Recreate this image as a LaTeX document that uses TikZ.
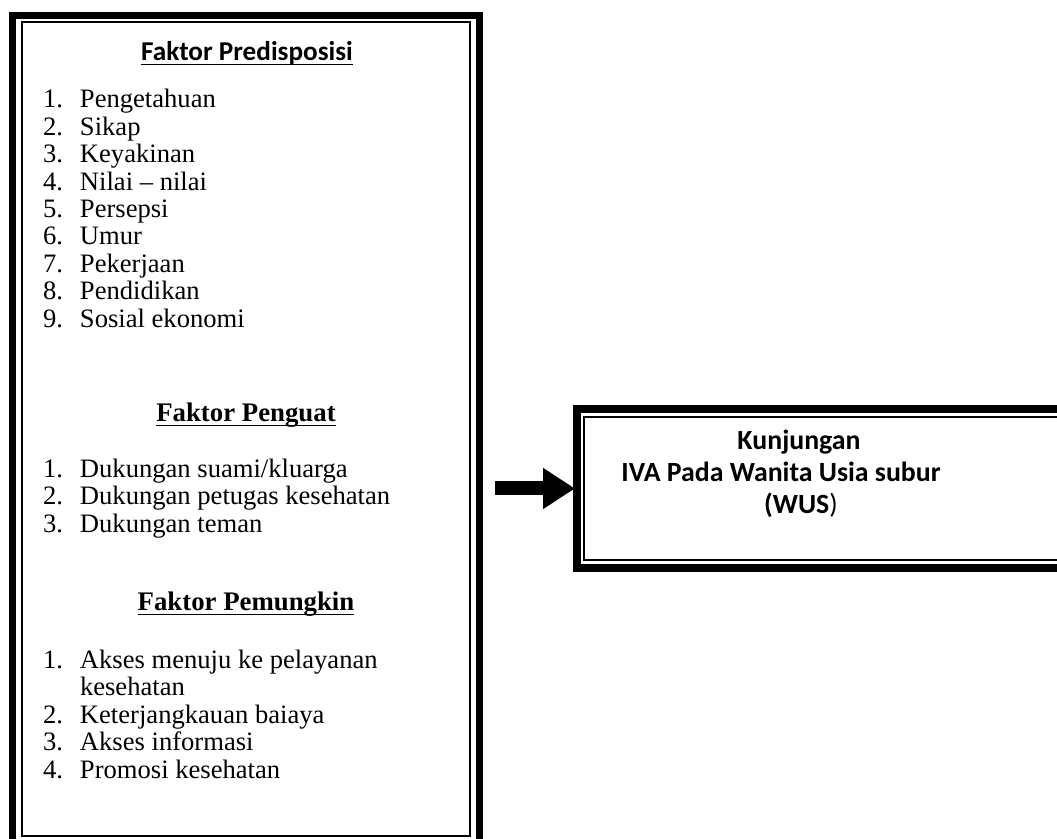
\documentclass[tikz,border=0pt]{standalone}
\usepackage{fontspec}
\setmainfont{Liberation Serif}
\newfontfamily\calib{Carlito}
\usetikzlibrary{arrows.meta}
\newcommand\wul[1]{\setbox0\hbox{#1}\rlap{\rule[-2.2pt]{\wd0}{0.9pt}}\box0}
\newcommand\nb[1]{\makebox[18.5pt][l]{#1}}
\begin{document}
\begin{tikzpicture}[x=0.5pt,y=-0.5pt,
 base/.style={inner sep=0pt, outer sep=0pt},
 item/.style={base, anchor=base west, font=\fontsize{13.3}{15}\selectfont},
 headC/.style={base, anchor=base, font=\calib\bfseries\fontsize{13.6}{15}\selectfont},
 headT/.style={base, anchor=base, font=\bfseries\fontsize{13.4}{15}\selectfont},
 rtext/.style={base, anchor=base, font=\calib\bfseries\fontsize{13.9}{16}\selectfont},
 thinframe/.style={draw, line width=0.75pt, inner sep=0pt, outer sep=0pt},
 thickframe/.style={line width=3.5pt},
 bigarrow/.style={line width=7pt, -{Triangle[length=16pt,width=19.5pt]}},
]
\useasboundingbox (0,0) rectangle (1057,839);
\clip (0,0) rectangle (1057,839);

% left box
\node[thinframe, minimum width=224pt, minimum height=407pt] (lbox) at (246,429) {};
\draw[thickframe] ([shift={(-9.5,-6.5)}]lbox.north west) rectangle ([shift={(9,7)}]lbox.south east);

% right box
\node[thinframe, minimum width=248pt, minimum height=71.5pt] (rbox) at (832,488.5) {};
\draw[line width=4pt] ([shift={(-7,-8)}]rbox.north west) rectangle ([shift={(10,8.5)}]rbox.south east);

% headings
\node[headC] (h1) at (247,61) {\wul{Faktor Predisposisi}};
\node[headT] (h2) at (246,422) {\wul{Faktor Penguat}};
\node[headT] (h3) at (246,611) {\wul{Faktor Pemungkin}};

% predisposisi
\node[item] (p1) at (43,108) {\nb{1.}Pengetahuan};
\node[item] (p2) at (43,135.4) {\nb{2.}Sikap};
\node[item] (p3) at (43,162.8) {\nb{3.}Keyakinan};
\node[item] (p4) at (43,190.2) {\nb{4.}Nilai -- nilai};
\node[item] (p5) at (43,217.6) {\nb{5.}Persepsi};
\node[item] (p6) at (43,245) {\nb{6.}Umur};
\node[item] (p7) at (43,272.4) {\nb{7.}Pekerjaan};
\node[item] (p8) at (43,299.8) {\nb{8.}Pendidikan};
\node[item] (p9) at (43,327.2) {\nb{9.}Sosial ekonomi};

% penguat
\node[item] (g1) at (43,477.5) {\nb{1.}Dukungan suami/kluarga};
\node[item] (g2) at (43,504.8) {\nb{2.}Dukungan petugas kesehatan};
\node[item] (g3) at (43,532.1) {\nb{3.}Dukungan teman};

% pemungkin
\node[item] (m1) at (43,668.5) {\nb{1.}Akses menuju ke pelayanan};
\node[item] (m1b) at (80,696) {kesehatan};
\node[item] (m2) at (43,723.5) {\nb{2.}Keterjangkauan baiaya};
\node[item] (m3) at (43,751) {\nb{3.}Akses informasi};
\node[item] (m4) at (43,778.5) {\nb{4.}Promosi kesehatan};

% right text
\node[rtext] (r1) at (799,450) {Kunjungan};
\node[rtext] (r2) at (781,482) {IVA Pada Wanita Usia subur};
\node[rtext] (r3) at (801,514) {(WUS{\mdseries )}};

% arrow
\coordinate (as) at (495,488.5);
\draw[bigarrow, shorten >=4.5pt] (as) -- (as -| rbox.west);
\end{tikzpicture}
\end{document}
